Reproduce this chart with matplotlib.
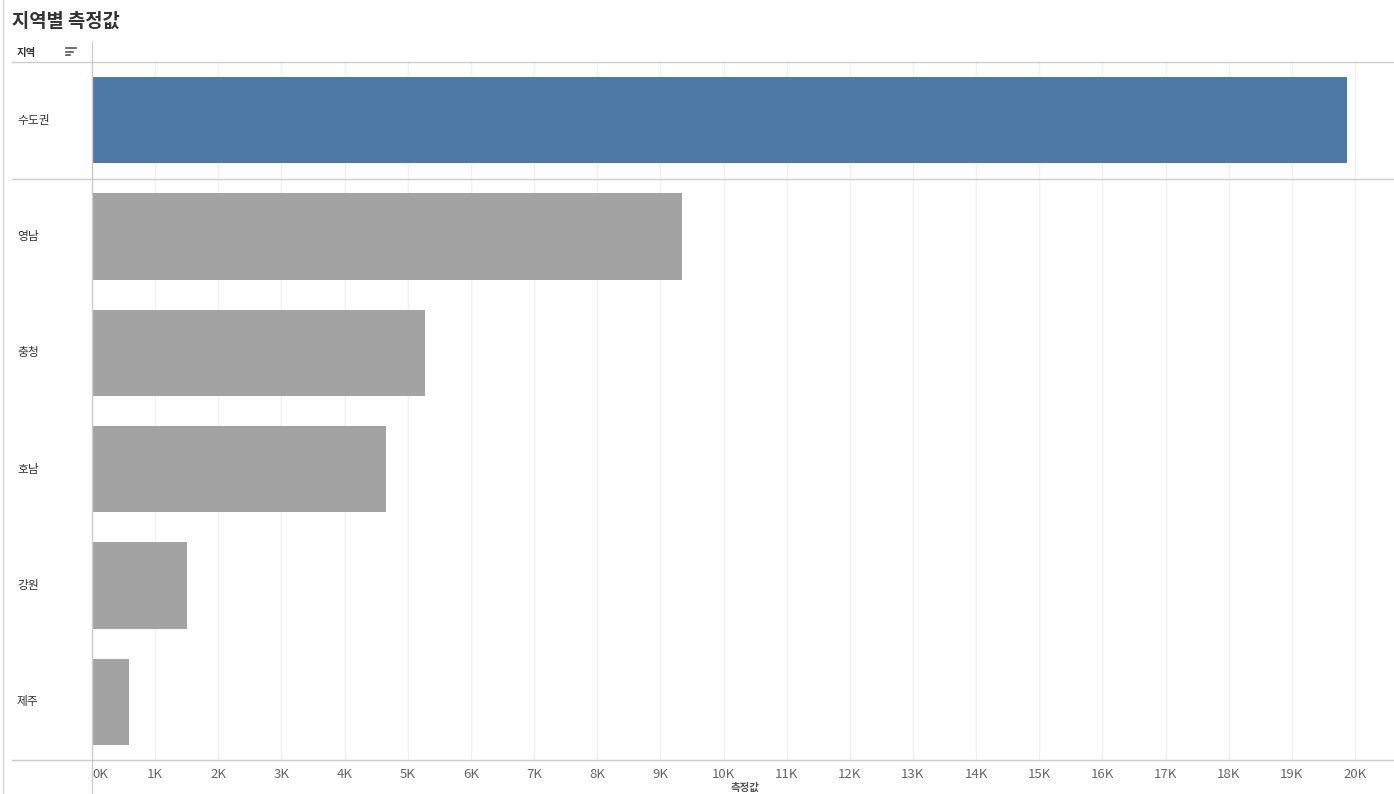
import matplotlib
matplotlib.use("Agg")
import matplotlib.pyplot as plt
from matplotlib.lines import Line2D
import matplotlib.transforms as mtransforms

plt.rcParams['font.family'] = ['Noto Sans CJK KR', 'DejaVu Sans']

title = "지역별 측정값"
regions = ["수도권", "영남", "충청", "호남", "강원", "제주"]
values = [19870, 9340, 5270, 4660, 1500, 590]
highlight = "수도권"
ticks = list(range(0, 21000, 1000))
tick_labels = [f"{t // 1000}K" for t in ticks]
axis_title = "측정값"

W, H = 1394, 794
fig = plt.figure(figsize=(W / 100, H / 100), dpi=100)

def fx(px):
    return px / W

def fy(py):
    return 1 - py / H

ax_left, ax_right, ax_top, ax_bottom = 92, 1393, 62, 760
ax = fig.add_axes([fx(ax_left), fy(ax_bottom), fx(ax_right - ax_left), fy(ax_top) - fy(ax_bottom)])

xmax = 20000 * (ax_right - ax_left) / (1355 - 92)
ax.set_xlim(0, xmax)
ax.set_ylim(len(regions) - 0.5, -0.5)

for t in ticks:
    ax.axvline(t, color="#f0f0f0", lw=1, zorder=0)

colors = ["#4e79a7" if r == highlight else "#a3a3a3" for r in regions]
ax.barh(range(len(regions)), values, height=0.74, color=colors, zorder=2)

for s in ax.spines.values():
    s.set_visible(False)
ax.set_xticks([])
ax.set_yticks([])

# tick labels
off = -8 / (ax_bottom - ax_top)
for t, lab in zip(ticks, tick_labels):
    ax.text(t, off, lab, transform=ax.get_xaxis_transform(),
            ha="left" if t == 0 else "center", va="top",
            fontsize=9.5, color="#666666")

# category labels
blend = mtransforms.blended_transform_factory(fig.transFigure, ax.transData)
for i, r in enumerate(regions):
    ax.text(fx(17), i, r, transform=blend, ha="left", va="center",
            fontsize=8.5, color="#333333")

# structural lines
def hline(y, x0, x1, color="#cccccc", lw=1):
    fig.add_artist(Line2D([fx(x0), fx(x1)], [fy(y), fy(y)], color=color, lw=lw))

def vline(x, y0, y1, color="#cccccc", lw=1):
    fig.add_artist(Line2D([fx(x), fx(x)], [fy(y0), fy(y1)], color=color, lw=lw))

hline(62, 12, 1393)
hline(179, 12, 1393)
hline(760, 12, 1393)
vline(92, 42, 794)
vline(2.5, 0, 794, color="#d8d8d8")

# title and header
fig.text(fx(12), fy(21), title, ha="left", va="center", fontsize=13.5,
         fontweight="bold", color="#333333")
fig.text(fx(17), fy(53), "지역", ha="left", va="center", fontsize=7.5,
         fontweight="bold", color="#333333")
for k, (x0, x1) in enumerate([(66, 76), (66, 73), (66, 70)]):
    hline(48 + 3.5 * k, x0, x1, color="#555555", lw=1.2)

# axis title at the bottom edge
fig.text(fx(745), fy(793), axis_title, ha="center", va="bottom", fontsize=7.5,
         fontweight="bold", color="#555555")

fig.savefig("out.png", dpi=100)
